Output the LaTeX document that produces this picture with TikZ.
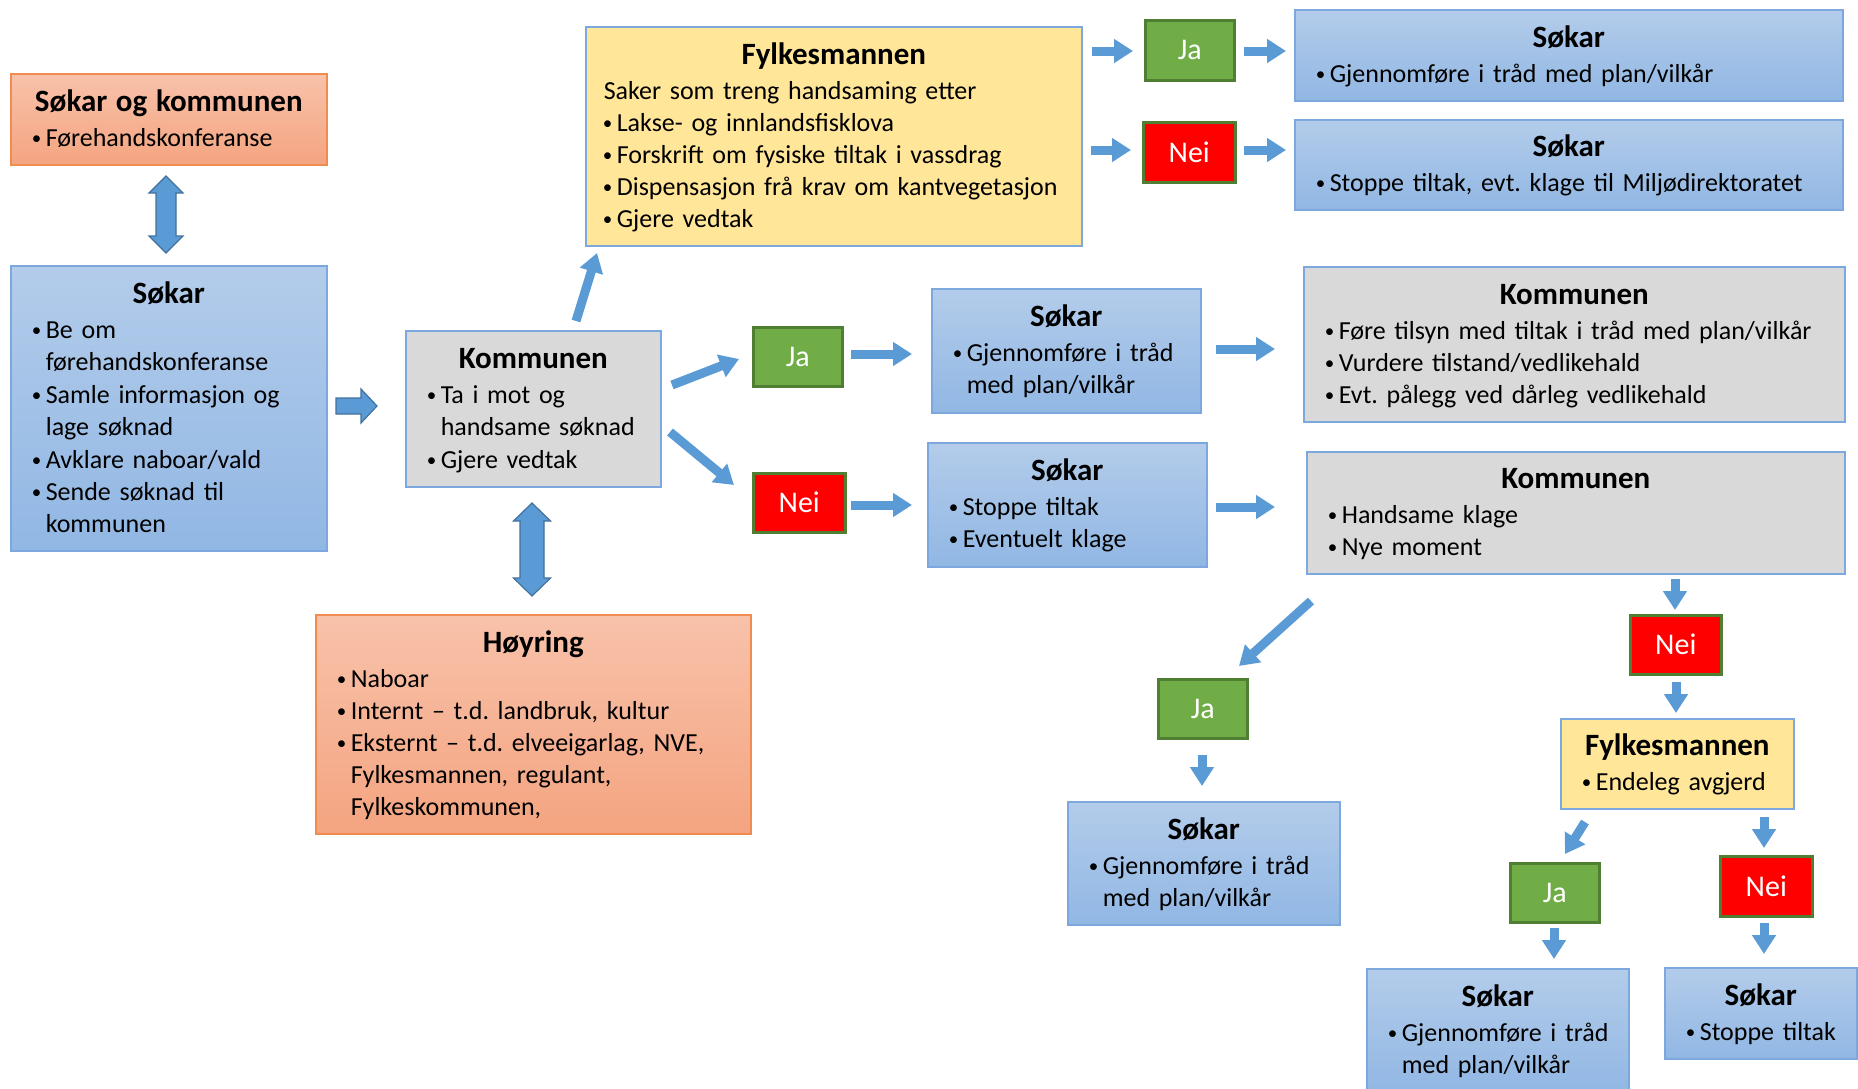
\documentclass[tikz,border=0pt]{standalone}
\usepackage{fontspec}
\setmainfont{Carlito}
\usetikzlibrary{arrows.meta}
\definecolor{bluetop}{RGB}{179,204,234}
\definecolor{bluebot}{RGB}{145,183,228}
\definecolor{bordblue}{RGB}{125,168,222}
\definecolor{ortop}{RGB}{248,194,170}
\definecolor{orbot}{RGB}{244,164,128}
\definecolor{orbord}{RGB}{240,140,80}
\definecolor{graybg}{RGB}{217,217,217}
\definecolor{yellowbg}{RGB}{255,230,153}
\definecolor{jagreen}{RGB}{112,173,71}
\definecolor{greenbord}{RGB}{80,126,50}
\definecolor{neired}{RGB}{255,0,0}
\definecolor{arrblue}{RGB}{91,155,213}
\definecolor{arrdark}{RGB}{65,113,156}
\frenchspacing
\newcommand{\ttl}[1]{\centerline{\fontsize{31}{36}\selectfont\bfseries\rule{0pt}{28pt}#1}\vspace{3pt}}
\newcommand{\bdot}{\makebox[13pt][l]{\hspace{-1pt}\raisebox{2pt}{\fontsize{19}{19}\selectfont •}}}
\newcommand{\bl}[1]{\par\noindent\bdot\begin{tabular}[t]{@{}l@{}}#1\end{tabular}}
\newcommand{\pl}[1]{\par\noindent\begin{tabular}[t]{@{}l@{}}#1\end{tabular}}
\tikzset{
  box/.style={rectangle, inner xsep=22pt, inner ysep=0pt, anchor=north west,
    line width=1.6pt, font=\fontsize{26}{32}\selectfont, text=black},
  bluebox/.style={box, draw=bordblue, top color=bluetop, bottom color=bluebot},
  orangebox/.style={box, draw=orbord, top color=ortop, bottom color=orbot},
  graybox/.style={box, draw=bordblue, fill=graybg},
  yellowbox/.style={box, draw=bordblue, fill=yellowbg},
  jabox/.style={rectangle, anchor=north west, draw=greenbord, line width=2.5pt,
    fill=jagreen, text=white, font=\fontsize{30}{36}\selectfont, inner sep=0pt},
  neibox/.style={jabox, fill=neired},
  arr/.style={draw=arrblue, line width=9pt, -{Triangle[width=23pt,length=19pt]}},
  blockarr/.style={fill=arrblue, draw=arrdark, line width=1.2pt},
}
\begin{document}
\begin{tikzpicture}[x=1pt,y=-1pt]
\useasboundingbox (0,0) rectangle (1858,1088);
\clip (0,0) rectangle (1858,1088);

% ---------- boxes ----------
\node[orangebox, minimum width=316pt, minimum height=91pt, text width=272pt] (sk) at (10,73)
  {\ttl{Søkar og kommunen}\bl{Førehandskonferanse}};
\node[bluebox, minimum width=316pt, minimum height=285pt, text width=272pt] (s1) at (10,265)
  {\ttl{Søkar}\bl{Be om\\førehandskonferanse}\bl{Samle informasjon og\\lage søknad}\bl{Avklare naboar/vald}\bl{Sende søknad til\\kommunen}};
\node[graybox, minimum width=255pt, minimum height=156pt, text width=211pt] (k1) at (405,330)
  {\ttl{Kommunen}\bl{Ta i mot og\\handsame søknad}\bl{Gjere vedtak}};
\node[orangebox, minimum width=435pt, minimum height=219pt, text width=391pt] (hoy) at (315,614)
  {\ttl{Høyring}\bl{Naboar}\bl{Internt – t.d. landbruk, kultur}\bl{Eksternt – t.d. elveeigarlag, NVE,\\Fylkesmannen, regulant,\\Fylkeskommunen,}};
\node[yellowbox, inner xsep=18pt, minimum width=496pt, minimum height=219pt, text width=460pt] (fy1) at (585,26)
  {\ttl{Fylkesmannen}\pl{Saker som treng handsaming etter}\bl{Lakse- og innlandsfisklova}\bl{Forskrift om fysiske tiltak i vassdrag}\bl{Dispensasjon frå krav om kantvegetasjon}\bl{Gjere vedtak}};
\node[jabox, minimum width=89pt, minimum height=60pt] (ja1) at (1144,19) {Ja};
\node[neibox, minimum width=92pt, minimum height=60pt] (nei1) at (1142,121) {Nei};
\node[bluebox, minimum width=548pt, minimum height=91pt, text width=504pt] (s2) at (1294,9)
  {\ttl{Søkar}\bl{Gjennomføre i tråd med plan/vilkår}};
\node[bluebox, minimum width=548pt, minimum height=90pt, text width=504pt] (s3) at (1294,119)
  {\ttl{Søkar}\bl{Stoppe tiltak, evt. klage til Miljødirektoratet}};
\node[jabox, minimum width=89pt, minimum height=59pt] (ja2) at (752,326) {Ja};
\node[bluebox, minimum width=269pt, minimum height=124pt, text width=225pt] (s4) at (931,288)
  {\ttl{Søkar}\bl{Gjennomføre i tråd\\med plan/vilkår}};
\node[graybox, minimum width=541pt, minimum height=155pt, text width=497pt] (k2) at (1303,266)
  {\ttl{Kommunen}\bl{Føre tilsyn med tiltak i tråd med plan/vilkår}\bl{Vurdere tilstand/vedlikehald}\bl{Evt. pålegg ved dårleg vedlikehald}};
\node[neibox, minimum width=92pt, minimum height=59pt] (nei2) at (752,472) {Nei};
\node[bluebox, minimum width=279pt, minimum height=124pt, text width=235pt] (s5) at (927,442)
  {\ttl{Søkar}\bl{Stoppe tiltak}\bl{Eventuelt klage}};
\node[graybox, minimum width=538pt, minimum height=122pt, text width=494pt] (k3) at (1306,451)
  {\ttl{Kommunen}\bl{Handsame klage}\bl{Nye moment}};
\node[jabox, minimum width=89pt, minimum height=59pt] (ja3) at (1157,678) {Ja};
\node[bluebox, minimum width=272pt, minimum height=123pt, text width=228pt] (s6) at (1067,801)
  {\ttl{Søkar}\bl{Gjennomføre i tråd\\med plan/vilkår}};
\node[neibox, minimum width=91pt, minimum height=59pt] (nei3) at (1629,614) {Nei};
\node[yellowbox, minimum width=233pt, minimum height=90pt, text width=189pt] (fy2) at (1560,718)
  {\ttl{Fylkesmannen}\bl{Endeleg avgjerd}};
\node[jabox, minimum width=89pt, minimum height=59pt] (ja4) at (1509,862) {Ja};
\node[neibox, minimum width=92pt, minimum height=60pt] (nei4) at (1719,855) {Nei};
\node[bluebox, minimum width=262pt, minimum height=124pt, text width=218pt] (s7) at (1366,968)
  {\ttl{Søkar}\bl{Gjennomføre i tråd\\med plan/vilkår}};
\node[bluebox, minimum width=192pt, minimum height=91pt, text width=148pt] (s8) at (1664,967)
  {\ttl{Søkar}\bl{Stoppe tiltak}};

% ---------- block arrows ----------
\draw[blockarr] (166,176) -- (183,193) -- (176,193) -- (176,236) -- (183,236) -- (166,253)
  -- (149,236) -- (156,236) -- (156,193) -- (149,193) -- cycle;
\draw[blockarr] (532,503) -- (550.5,521) -- (544,521) -- (544,578) -- (550.5,578) -- (532,596)
  -- (513.5,578) -- (520,578) -- (520,521) -- (513.5,521) -- cycle;
\draw[blockarr] (336,398) -- (361,398) -- (361,389) -- (377,406) -- (361,423) -- (361,414)
  -- (336,414) -- cycle;

% ---------- thin arrows ----------
\coordinate (a1s) at (576,321);   \coordinate (a1e) at (597,253);
\coordinate (a2s) at (1092,51);   \coordinate (a2e) at (1133,51);
\coordinate (a3s) at (1244,51);   \coordinate (a3e) at (1286,51);
\coordinate (a4s) at (1091,150);  \coordinate (a4e) at (1131,150);
\coordinate (a5s) at (1244,150);  \coordinate (a5e) at (1286,150);
\coordinate (a6s) at (672,385);   \coordinate (a6e) at (739,359);
\coordinate (a7s) at (851,354);   \coordinate (a7e) at (912,354);
\coordinate (a8s) at (1216,349);  \coordinate (a8e) at (1275,349);
\coordinate (a9s) at (670,432);   \coordinate (a9e) at (734,485);
\coordinate (a10s) at (851,505);  \coordinate (a10e) at (912,505);
\coordinate (a11s) at (1216,507); \coordinate (a11e) at (1275,507);
\coordinate (a12s) at (1311,601); \coordinate (a12e) at (1239,666);
\coordinate (a13s) at (1202,755); \coordinate (a13e) at (1202,786);
\coordinate (a14s) at (1675,579); \coordinate (a14e) at (1675,610);
\coordinate (a15s) at (1676,682); \coordinate (a15e) at (1676,713);
\coordinate (a16s) at (1585,822); \coordinate (a16e) at (1565,854);
\coordinate (a17s) at (1764,817); \coordinate (a17e) at (1764,848);
\coordinate (a18s) at (1554,928); \coordinate (a18e) at (1554,959);
\coordinate (a19s) at (1764,923); \coordinate (a19e) at (1764,954);
\foreach \i in {1,...,19} { \draw[arr] (a\i s) -- (a\i e); }
\end{tikzpicture}
\end{document}
